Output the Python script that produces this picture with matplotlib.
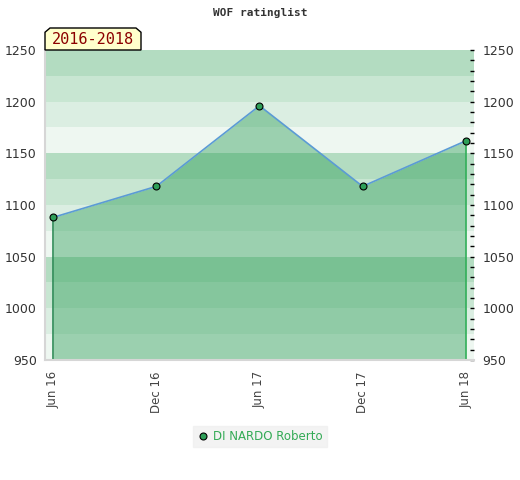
import numpy as np
import matplotlib
matplotlib.use('Agg')
import matplotlib.pyplot as plt
from matplotlib.patches import Polygon

# values
months = ['Jun 16', 'Dec 16', 'Jun 17', 'Dec 17', 'Jun 18']
rating = [1088, 1118, 1196, 1118, 1162]
player = 'DI NARDO Roberto'
period = '2016-2018'
band_colors = ['#b3dcc1', '#c8e6d2', '#dbeee2', '#eef7f1']

fig = plt.figure(figsize=(5.2, 4.8), dpi=100)
ax = fig.add_axes([0.0865, 0.25, 0.825, 0.646])
ymin, ymax = 950, 1250
x = np.arange(len(months))

# background bands, 25 points each, pattern repeats every 100
for i, top in enumerate(range(ymax, ymin, -25)):
    ax.axhspan(top - 25, top, color=band_colors[i % 4], lw=0, zorder=0)

ax.fill_between(x, rating, ymin, color='#2e9e58', alpha=0.43, lw=0, zorder=1)
ax.vlines(x[0], ymin, rating[0], color='#2e8b57', lw=1.2, zorder=2)
ax.vlines(x[-1], ymin, rating[-1], color='#33b05a', lw=1.2, zorder=2)
ax.plot(x, rating, color='#5b9bd5', lw=1.2, zorder=3)
ax.plot(x, rating, 'o', ms=5, mfc='#2e9e58', mec='black', mew=0.8, zorder=4)

ax.set_xlim(-0.08, len(months) - 1 + 0.08)
ax.set_ylim(ymin, ymax)
ax.set_xticks(x)
ax.set_xticklabels(months, rotation=90, color='#444444', fontsize=8.5)
ax.set_yticks(range(ymin, ymax + 1, 50))
ax.tick_params(axis='x', length=0, pad=8)
ax.tick_params(axis='y', which='both', left=False, right=True, direction='in',
               labelleft=True, labelright=True, labelsize=9, colors='black',
               labelcolor='#333333', length=3, width=1, pad=6)
ax.set_yticks(range(ymin, ymax + 1, 10), minor=True)
ax.tick_params(axis='y', which='minor', length=3, right=True, direction='in')
for side in ['top', 'right']:
    ax.spines[side].set_visible(False)
for side in ['left', 'bottom']:
    ax.spines[side].set_color('#d6d6d6')
    ax.spines[side].set_linewidth(1.5)

fig.text(0.5, 0.972, 'WOF ratinglist', ha='center', va='center',
         family='DejaVu Sans Mono', weight='bold', fontsize=8, color='#333333')

# period label tab with chamfered corners
w, h, c = 96 / 520, 22 / 480, 5 / 520
x0, y0 = 45 / 520, (480 - 50) / 480
tab = Polygon([(x0, y0), (x0, y0 + h - c * 480 / 520), (x0 + c, y0 + h),
               (x0 + w - c, y0 + h), (x0 + w, y0 + h - c * 480 / 520), (x0 + w, y0)],
              closed=True, transform=fig.transFigure, fc='#ffffcc', ec='black', lw=1)
fig.patches.append(tab)
fig.text(x0 + w / 2, y0 + h / 2 - 0.002, period, ha='center', va='center',
         family='DejaVu Sans Mono', fontsize=11, color='#8b0000')

leg = fig.legend(handles=[ax.lines[-1]], labels=[player], loc='center',
                 bbox_to_anchor=(0.5, 0.09), frameon=True, fontsize=8.5,
                 handletextpad=0.4, handlelength=1.0, borderpad=0.35)
leg.get_frame().set_facecolor('#f0f0f0')
leg.get_frame().set_edgecolor('#f0f0f0')
leg.get_frame().set_boxstyle('square', pad=0)
for t in leg.get_texts():
    t.set_color('#33aa55')

fig.savefig('out.png', dpi=100)
